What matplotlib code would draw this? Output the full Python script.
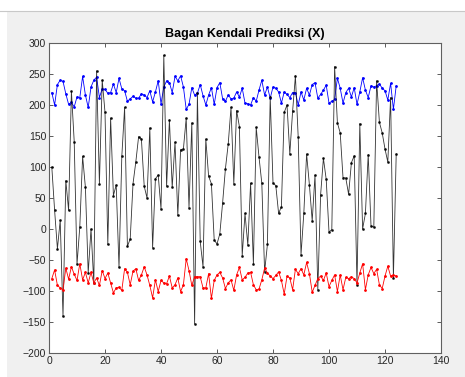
import numpy as np
import matplotlib.pyplot as plt
from matplotlib.patches import Rectangle

# data
x = np.arange(1, 125)

prediksi = [100, 30, -32, 14, -141, 78, 30, 222, 141, -57,
            4, 117, 67, -71, 0, -87, 255, 73, 240, 188,
            -25, 179, 54, 71, -62, 117, 196, -28, -16, 73,
            108, 149, 145, 69, 50, 163, -30, 81, 87, 32,
            280, 69, 176, 67, 140, 22, 128, 129, 179, 34,
            171, -153, 219, -20, -61, 145, 85, 73, -18, -24,
            -8, 42, 97, 137, 196, 73, 191, 165, -43, 25,
            -26, 74, -57, 164, 116, 74, -69, -25, 213, 74,
            70, 25, 36, 188, 200, 121, 190, 247, 148, -42,
            25, 121, 71, 13, 87, -98, 55, 114, 80, -5,
            -1, 262, 171, 155, 83, 82, 56, 107, 118, -90,
            170, 0, 25, 120, 5, 3, 239, 172, 155, 129,
            108, 212, -79, 121]

batas_atas = [220, 200, 233, 240, 238, 218, 201, 204, 197, 213,
              212, 246, 216, 196, 229, 240, 245, 212, 226, 225,
              219, 220, 234, 220, 243, 226, 223, 206, 210, 214,
              211, 211, 218, 216, 212, 223, 205, 221, 239, 202,
              229, 239, 236, 220, 246, 239, 247, 229, 193, 201,
              228, 216, 219, 233, 215, 200, 216, 228, 201, 228,
              236, 210, 206, 216, 210, 211, 221, 213, 227, 203,
              202, 200, 212, 206, 224, 240, 216, 229, 211, 229,
              227, 221, 203, 221, 217, 212, 220, 220, 200, 221,
              208, 227, 216, 233, 236, 211, 217, 224, 232, 203,
              206, 209, 243, 227, 203, 220, 227, 213, 228, 201,
              221, 244, 224, 212, 231, 229, 231, 234, 227, 223,
              208, 235, 193, 231]

batas_bawah = [-80, -66, -91, -95, -98, -63, -81, -61, -73, -83,
               -56, -82, -70, -87, -70, -87, -79, -91, -67, -80,
               -71, -87, -103, -95, -94, -99, -64, -70, -90, -68,
               -64, -83, -74, -61, -74, -91, -111, -82, -101, -83,
               -87, -88, -76, -95, -90, -79, -101, -90, -48, -67,
               -91, -77, -77, -77, -95, -95, -72, -112, -83, -74,
               -70, -79, -96, -87, -82, -99, -74, -62, -82, -78,
               -71, -70, -90, -98, -97, -82, -63, -71, -76, -80,
               -75, -69, -83, -105, -76, -79, -98, -65, -72, -64,
               -74, -54, -72, -102, -91, -80, -76, -83, -71, -93,
               -83, -74, -101, -74, -98, -78, -80, -77, -80, -87,
               -71, -56, -98, -74, -62, -72, -65, -90, -96, -76,
               -60, -76, -74, -76]

fig = plt.figure(figsize=(4.65, 3.77), dpi=100, facecolor='#f0f0f0')
# white strip of the window above the figure
fig.patches.append(Rectangle((0, 0.97), 1, 0.03, transform=fig.transFigure,
                             facecolor='white', edgecolor='none', zorder=-1))
fig.patches.append(Rectangle((0, 0), 0.015, 1, transform=fig.transFigure,
                             facecolor='white', edgecolor='none', zorder=-1))
fig.lines.append(plt.Line2D([0, 1], [0.97, 0.97], transform=fig.transFigure,
                            color='#c8c8c8', linewidth=0.8))

ax = fig.add_axes([0.1054, 0.0637, 0.843, 0.8223])
ax.plot(x, batas_atas, '.-', color='#0000ff', linewidth=0.6, markersize=2)
ax.plot(x, prediksi, '.-', color='black', linewidth=0.6, markersize=2, alpha=0.8)
ax.plot(x, batas_bawah, '.-', color='#ff0000', linewidth=0.6, markersize=2)

ax.set_xlim(0, 140)
ax.set_ylim(-200, 300)
ax.set_xticks(range(0, 141, 20))
ax.set_yticks(range(-200, 301, 50))
ax.tick_params(direction='in', top=True, right=True, length=3, width=0.6,
               labelsize=7.5, colors='#404040', pad=2)
for s in ax.spines.values():
    s.set_color('#606060')
    s.set_linewidth(0.8)

plt.rcParams['font.family'] = ['Liberation Sans', 'DejaVu Sans']
for lab in ax.get_xticklabels() + ax.get_yticklabels():
    lab.set_family('Liberation Sans')
    lab.set_color('#262626')
ax.set_title('Bagan Kendali Prediksi (X)', fontsize=9, fontweight='bold',
             family='Liberation Sans', pad=4)

fig.savefig('out.png', dpi=100, facecolor=fig.get_facecolor())
